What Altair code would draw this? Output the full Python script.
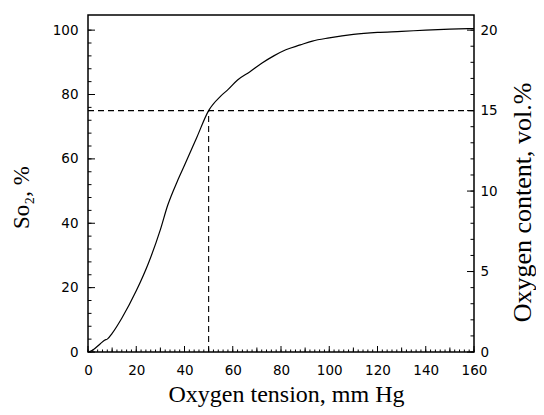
import altair as alt
import pandas as pd

# Oxygen dissociation curve
tension = [0, 2, 5, 7, 8, 10, 14, 20, 25, 30, 33, 37, 40, 45, 50, 55, 58, 62, 67,
           72, 77, 82, 88, 93, 100, 110, 120, 130, 140, 150, 160]
so2 = [0, 0.6, 2.5, 3.7, 4.0, 5.8, 10.5, 19, 27.5, 38, 45.5, 53, 58, 66.5, 75, 79.5,
       81.5, 84.5, 87, 89.7, 92, 93.9, 95.4, 96.6, 97.6, 98.7, 99.3, 99.6, 100, 100.3, 100.5]

# dashed guide lines (P50 marker)
guide_x = [0, 50]
guide_x2 = [160, 50]
guide_y = [75, 0]
guide_y2 = [75, 75]

x_labels = [0, 20, 40, 60, 80, 100, 120, 140, 160]
x_mid = list(range(10, 161, 20))
x_minor = list(range(0, 161, 2))
yl_labels = [0, 20, 40, 60, 80, 100]
yl_minor = list(range(0, 101, 4))
yr_labels = [0, 5, 10, 15, 20]
yr_minor = list(range(0, 21, 1))

X_DOMAIN = [0, 160]
YL_DOMAIN = [0, 104.7]
YR_DOMAIN = [0, 20.94]

W, H = 386, 337
LABEL_FONT = "DejaVu Sans"
TITLE_FONT = "Liberation Serif"

df = pd.DataFrame({"tension": tension, "so2": so2})
guides = pd.DataFrame({"x": guide_x, "x2": guide_x2, "y": guide_y, "y2": guide_y2})


def xs():
    return alt.Scale(domain=X_DOMAIN, nice=False, zero=False)


def yls():
    return alt.Scale(domain=YL_DOMAIN, nice=False, zero=False)


def yrs():
    return alt.Scale(domain=YR_DOMAIN, nice=False, zero=False)


# curve with the bottom and left label axes
curve = alt.Chart(df).mark_line(color="black", strokeWidth=1.2, interpolate="monotone").encode(
    x=alt.X("tension:Q", scale=xs(), axis=alt.Axis(
        orient="bottom", values=x_labels, ticks=False, tickSize=0, domain=False,
        grid=False, labelPadding=11, labelFont=LABEL_FONT, labelFontSize=13.5,
        labelColor="black", labelFlush=False, labelOverlap=False,
        title="Oxygen tension, mm Hg", titleFont=TITLE_FONT, titleFontSize=24,
        titleFontWeight="normal", titleColor="black", titleX=198, titleY=49,
        titleBaseline="alphabetic", titleAlign="center")),
    y=alt.Y("so2:Q", scale=yls(), axis=alt.Axis(
        orient="left", values=yl_labels, ticks=False, tickSize=0, domain=False,
        grid=False, labelPadding=10, labelFont=LABEL_FONT, labelFontSize=13.5,
        labelColor="black", labelFlush=False, labelOverlap=False,
        title="So₂, %", titleFont=TITLE_FONT, titleFontSize=23,
        titleFontWeight="normal", titleColor="black", titleAngle=270,
        titleX=-60, titleY=182, titleBaseline="alphabetic", titleAlign="center")),
)

dashed = alt.Chart(guides).mark_rule(color="black", strokeWidth=1.1, strokeDash=[6, 4]).encode(
    x=alt.X("x:Q", scale=xs(), axis=None),
    x2="x2:Q",
    y=alt.Y("y:Q", scale=yls(), axis=None),
    y2="y2:Q",
)

# right label axis
right_labels = alt.Chart(df).mark_point(opacity=0).encode(
    x=alt.X("tension:Q", scale=xs(), axis=None),
    y=alt.Y("so2:Q", scale=yrs(), axis=alt.Axis(
        orient="right", values=yr_labels, ticks=False, tickSize=0, domain=False,
        grid=False, labelPadding=6, labelFont=LABEL_FONT, labelFontSize=13.5,
        labelColor="black", labelFlush=False, labelOverlap=False,
        title="Oxygen content, vol.%", titleFont=TITLE_FONT, titleFontSize=26,
        titleFontWeight="normal", titleColor="black", titleAngle=270,
        titleX=56, titleY=187, titleBaseline="alphabetic", titleAlign="center")),
)


# inward tick marks, positioned through the scales
def x_ticks(values, size):
    d = pd.DataFrame({"v": values})
    return alt.Chart(d).mark_rule(color="black", strokeWidth=1).encode(
        x=alt.X("v:Q", scale=xs(), axis=None),
        y=alt.value(H),
        y2=alt.value(H - size),
    )


def y_ticks(values, scale, side, size):
    d = pd.DataFrame({"v": values})
    x0 = 0 if side == "left" else W
    x1 = size if side == "left" else W - size
    return alt.Chart(d).mark_rule(color="black", strokeWidth=1).encode(
        y=alt.Y("v:Q", scale=scale, axis=None),
        x=alt.value(x0),
        x2=alt.value(x1),
    )


layers = [
    curve,
    dashed,
    right_labels,
    y_ticks(yl_labels, yls(), "left", 7),
    y_ticks(yl_minor, yls(), "left", 3.5),
    y_ticks(yr_labels, yrs(), "right", 7),
    y_ticks(yr_minor, yrs(), "right", 3.5),
    x_ticks(x_labels, 6),
    x_ticks(x_mid, 4.5),
    x_ticks(x_minor, 2.5),
]

chart = alt.layer(*layers).resolve_scale(
    y="independent"
).resolve_axis(
    x="independent", y="independent"
).properties(
    width=W, height=H,
    autosize=alt.AutoSizeParams(type="none"),
    padding={"left": 80, "top": 7, "right": 62, "bottom": 55},
    background="white",
).configure_view(
    stroke="black", strokeWidth=1.5
)

chart.save("out.html", embed_options={"renderer": "svg", "actions": False})
